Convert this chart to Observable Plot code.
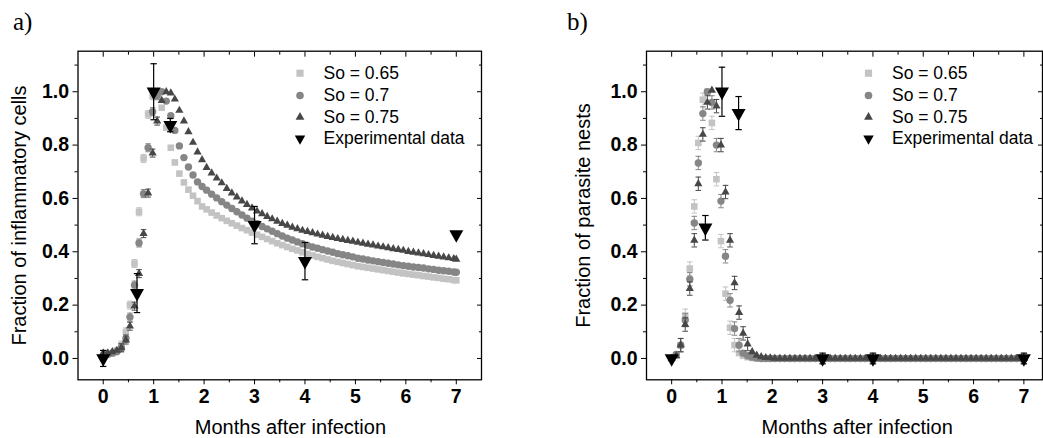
<!DOCTYPE html>
<html><head><meta charset="utf-8">
<script src="https://cdn.jsdelivr.net/npm/d3@7"></script>
<script src="https://cdn.jsdelivr.net/npm/@observablehq/plot@0.6"></script>
<style>
body{margin:0;background:#fff;}
#wrap{position:relative;width:1043px;height:438px;overflow:hidden;background:#fff;}
#wrap svg{position:absolute;top:0;}
.panel-label{position:absolute;font-family:"Liberation Serif","Times New Roman",serif;font-size:25px;line-height:25px;color:#000;}
</style></head><body>
<div id="wrap">
<div class="panel-label" style="left:13px;top:9px">a)</div>
<div class="panel-label" style="left:567px;top:9px">b)</div>
</div>
<script>
// ---- data ----
const modelMonths = [0, 0.09, 0.18, 0.27, 0.36, 0.45, 0.53, 0.62, 0.71, 0.80, 0.89, 0.98, 1.07, 1.16, 1.25, 1.34, 1.42, 1.51, 1.60, 1.69, 1.78, 1.87, 1.96,
  2.05, 2.15, 2.25, 2.35, 2.45, 2.55, 2.65, 2.75, 2.85, 2.95,
  3.05, 3.15, 3.25, 3.35, 3.45, 3.55, 3.65, 3.75, 3.85, 3.95,
  4.05, 4.15, 4.25, 4.35, 4.45, 4.55, 4.65, 4.75, 4.85, 4.95,
  5.05, 5.15, 5.25, 5.35, 5.45, 5.55, 5.65, 5.75, 5.85, 5.95,
  6.05, 6.15, 6.25, 6.35, 6.45, 6.55, 6.65, 6.75, 6.85, 6.95, 7.0];

// panel a: fraction of inflammatory cells
const inflam065 = [0.01, 0.02, 0.02, 0.03, 0.05, 0.10, 0.20, 0.356, 0.55, 0.75, 0.915, 0.985, 0.995, 0.94, 0.865, 0.79, 0.735, 0.693, 0.66, 0.633, 0.61, 0.59, 0.57,
  0.559, 0.547, 0.536, 0.526, 0.516, 0.507, 0.498, 0.489, 0.481, 0.472,
  0.464, 0.456, 0.448, 0.44, 0.432, 0.425, 0.418, 0.411, 0.405, 0.398,
  0.392, 0.386, 0.381, 0.376, 0.371, 0.366, 0.362, 0.358, 0.354, 0.35,
  0.346, 0.343, 0.34, 0.337, 0.334, 0.331, 0.328, 0.325, 0.322, 0.319,
  0.317, 0.314, 0.312, 0.309, 0.307, 0.304, 0.302, 0.299, 0.297, 0.294, 0.293];
const inflam070 = [0.01, 0.015, 0.02, 0.025, 0.04, 0.075, 0.155, 0.275, 0.433, 0.618, 0.79, 0.925, 0.985, 1.0, 0.965, 0.91, 0.855, 0.797, 0.753, 0.718, 0.688, 0.662, 0.645,
  0.631, 0.616, 0.602, 0.588, 0.575, 0.562, 0.55, 0.538, 0.526, 0.515,
  0.505, 0.495, 0.486, 0.477, 0.468, 0.459, 0.451, 0.444, 0.437, 0.43,
  0.424, 0.418, 0.413, 0.408, 0.403, 0.398, 0.393, 0.389, 0.385, 0.381,
  0.376, 0.373, 0.369, 0.366, 0.363, 0.36, 0.357, 0.354, 0.351, 0.348,
  0.346, 0.343, 0.341, 0.339, 0.336, 0.334, 0.331, 0.329, 0.327, 0.324, 0.323];
const inflam075 = [0.02, 0.02, 0.025, 0.03, 0.04, 0.069, 0.121, 0.196, 0.318, 0.468, 0.62, 0.77, 0.89, 0.967, 1.0, 0.995, 0.972, 0.93, 0.89, 0.85, 0.81, 0.774, 0.745,
  0.716, 0.695, 0.676, 0.658, 0.637, 0.62, 0.605, 0.59, 0.577, 0.564,
  0.552, 0.542, 0.532, 0.523, 0.514, 0.506, 0.499, 0.492, 0.486, 0.48,
  0.476, 0.471, 0.466, 0.462, 0.457, 0.453, 0.449, 0.446, 0.442, 0.439,
  0.435, 0.432, 0.428, 0.425, 0.421, 0.418, 0.415, 0.411, 0.408, 0.405,
  0.401, 0.398, 0.395, 0.392, 0.389, 0.386, 0.383, 0.38, 0.377, 0.374, 0.372];

// panel b: fraction of parasite nests
const nests065 = [0, 0.01, 0.05, 0.16, 0.337, 0.57, 0.808, 0.97, 1.0, 0.883, 0.672, 0.44, 0.243, 0.115, 0.05, 0.02, 0.01, 0.005, 0.002, 0, 0, 0, 0,
  0, 0, 0, 0, 0, 0, 0, 0, 0, 0,
  0, 0, 0, 0, 0, 0, 0, 0, 0, 0,
  0, 0, 0, 0, 0, 0, 0, 0, 0, 0,
  0, 0, 0, 0, 0, 0, 0, 0, 0, 0,
  0, 0, 0, 0, 0, 0, 0, 0, 0, 0, 0];
const nests070 = [0, 0.015, 0.05, 0.144, 0.297, 0.508, 0.733, 0.918, 1.0, 0.96, 0.80, 0.59, 0.383, 0.218, 0.112, 0.05, 0.02, 0.01, 0.005, 0.002, 0, 0, 0,
  0, 0, 0, 0, 0, 0, 0, 0, 0, 0,
  0, 0, 0, 0, 0, 0, 0, 0, 0, 0,
  0, 0, 0, 0, 0, 0, 0, 0, 0, 0,
  0, 0, 0, 0, 0, 0, 0, 0, 0, 0,
  0, 0, 0, 0, 0, 0, 0, 0, 0, 0, 0];
const nests075 = [0, 0.01, 0.05, 0.127, 0.262, 0.443, 0.655, 0.84, 0.96, 1.005, 0.946, 0.80, 0.624, 0.443, 0.283, 0.172, 0.094, 0.054, 0.025, 0.012, 0.006, 0.003, 0.002,
  0, 0, 0, 0, 0, 0, 0, 0, 0, 0,
  0, 0, 0, 0, 0, 0, 0, 0, 0, 0,
  0, 0, 0, 0, 0, 0, 0, 0, 0, 0,
  0, 0, 0, 0, 0, 0, 0, 0, 0, 0,
  0, 0, 0, 0, 0, 0, 0, 0, 0, 0, 0];

// experimental data
const expMonths = [0, 0.67, 1, 1.33, 3, 4, 7];
const expInflam = [0, 0.245, 1.0, 0.875, 0.5, 0.365, 0.465];
const expInflamErr = [0.03, 0.073, 0.105, 0.025, 0.07, 0.07, 0];
const expNests = [0, 0.49, 1.0, 0.92, 0, 0, 0];
const expNestsErr = [0, 0.046, 0.092, 0.062, 0.02, 0.02, 0.02];

const seriesNames = ["So = 0.65", "So = 0.7", "So = 0.75", "Experimental data"];
const xMajorTicks = [0, 1, 2, 3, 4, 5, 6, 7];
const xMinorTicks = [0.5, 1.5, 2.5, 3.5, 4.5, 5.5, 6.5];
const yMajorTicks = [0, 0.2, 0.4, 0.6, 0.8, 1.0];
const yMinorTicks = [0.1, 0.3, 0.5, 0.7, 0.9, 1.1];
const xTitle = "Months after infection";
const yTitleA = "Fraction of inflammatory cells";
const yTitleB = "Fraction of parasite nests";

// ---- symbols ----
const symSquare = {draw(c, s) { const r = Math.sqrt(s / Math.PI); c.rect(-r, -r, 2 * r, 2 * r); }};
const symTriUp = {draw(c, s) { const r = Math.sqrt(s / Math.PI), h = r * 1.75;
  c.moveTo(0, -2 * h / 3); c.lineTo(r, h / 3); c.lineTo(-r, h / 3); c.closePath(); }};
const symTriDown = {draw(c, s) { const r = Math.sqrt(s / Math.PI), h = r * 1.8;
  c.moveTo(-r, -h / 3); c.lineTo(r, -h / 3); c.lineTo(0, 2 * h / 3); c.closePath(); }};
const symCap = {draw(c, s) { const r = Math.sqrt(s / Math.PI); c.moveTo(-r, 0); c.lineTo(r, 0); }};

const colors = ["#c3c3c3", "#868686", "#474747", "#000000"];
const modelSymbols = ["square", "circle", "triangle"];
const symOf = {square: symSquare, circle: "circle", triangle: symTriUp};
const sizeOf = {square: 3.3, circle: 3.7, triangle: 4.1};
const legendSize = {square: 3.6, circle: 3.8, triangle: 4.4};

const FONT = "'Liberation Sans', Arial, Helvetica, sans-serif";

function makePanel({series, expY, expErr, modelErr, errMaxX, yTitle, width, marginLeft, marginRight, xDomain, titleDx, yTitleDx}) {
  const marks = [];
  // model series
  series.forEach((vals, k) => {
    const rows = modelMonths.map((m, i) => ({m, v: vals[i]}));
    const errRows = rows.filter(d => d.m <= errMaxX && d.v >= 0.04 && d.v < 0.995);
    const col = colors[k];
    if (modelErr > 0) {
      marks.push(Plot.ruleX(errRows, {x: "m", y1: d => d.v - modelErr, y2: d => d.v + modelErr, stroke: col, strokeWidth: 1}));
      marks.push(Plot.dot(errRows, {x: "m", y: d => d.v + modelErr, symbol: symCap, r: 2.8, fill: "none", stroke: col, strokeWidth: 1}));
      marks.push(Plot.dot(errRows, {x: "m", y: d => d.v - modelErr, symbol: symCap, r: 2.8, fill: "none", stroke: col, strokeWidth: 1}));
    }
    const s = modelSymbols[k];
    marks.push(Plot.dot(rows, {x: "m", y: "v", symbol: symOf[s], r: sizeOf[s], fill: col, stroke: "none"}));
  });
  // experimental
  const exp = expMonths.map((m, i) => ({m, v: expY[i], e: expErr[i]}));
  const expE = exp.filter(d => d.e > 0);
  marks.push(Plot.ruleX(expE, {x: "m", y1: d => d.v - d.e, y2: d => d.v + d.e, stroke: "#000", strokeWidth: 1.2}));
  marks.push(Plot.dot(expE, {x: "m", y: d => d.v + d.e, symbol: symCap, r: 3.2, fill: "none", stroke: "#000", strokeWidth: 1.2}));
  marks.push(Plot.dot(expE, {x: "m", y: d => d.v - d.e, symbol: symCap, r: 3.2, fill: "none", stroke: "#000", strokeWidth: 1.2}));
  marks.push(Plot.dot(exp, {x: "m", y: "v", symbol: symTriDown, r: 7.0, fill: "#000", stroke: "none"}));

  // legend
  const legendDy = [22, 44.3, 66, 87.3];
  seriesNames.forEach((name, k) => {
    if (k < 3) {
      const s = modelSymbols[k];
      marks.push(Plot.dot([name], {frameAnchor: "top-left", dx: 222, dy: legendDy[k], symbol: symOf[s], r: legendSize[s], fill: colors[k]}));
    } else {
      marks.push(Plot.dot([name], {frameAnchor: "top-left", dx: 222, dy: legendDy[k], symbol: symTriDown, r: 5.2, fill: "#000"}));
    }
    marks.push(Plot.text([name], {frameAnchor: "top-left", dx: 245.5, dy: legendDy[k], text: d => d, textAnchor: "start", lineAnchor: "middle", fontSize: 17.5, fill: "#000"}));
  });

  // axis titles
  marks.push(Plot.text([xTitle], {frameAnchor: "bottom", dx: titleDx, dy: 54, text: d => d, lineAnchor: "bottom", textAnchor: "middle", fontSize: 20, fill: "#000"}));
  marks.push(Plot.text([yTitle], {frameAnchor: "left", dx: yTitleDx, text: d => d, rotate: -90, lineAnchor: "middle", textAnchor: "middle", fontSize: 20, fill: "#000"}));

  const blank = () => "";
  marks.push(
    Plot.axisY({ticks: yMajorTicks, anchor: "left", tickSize: 5, tickPadding: 4, tickFormat: d3.format(".1f"), fontWeight: "bold", fontSize: 19.5, label: null}),
    Plot.axisY({ticks: yMinorTicks, anchor: "left", tickSize: 3, tickFormat: blank, label: null}),
    Plot.axisY({ticks: yMajorTicks, anchor: "right", tickSize: 5, dx: -5, tickFormat: blank, label: null}),
    Plot.axisY({ticks: yMinorTicks, anchor: "right", tickSize: 3, dx: -3, tickFormat: blank, label: null}),
    Plot.axisX({ticks: xMajorTicks, anchor: "bottom", tickSize: 5, tickPadding: 4, tickFormat: d => String(d), fontWeight: "bold", fontSize: 19.5, label: null}),
    Plot.axisX({ticks: xMinorTicks, anchor: "bottom", tickSize: 3, tickFormat: blank, label: null}),
    Plot.axisX({ticks: xMajorTicks, anchor: "top", tickSize: 5, dy: 5, tickFormat: blank, label: null}),
    Plot.axisX({ticks: xMinorTicks, anchor: "top", tickSize: 3, dy: 3, tickFormat: blank, label: null}),
    Plot.frame({stroke: "#000", strokeWidth: 1.3})
  );

  return Plot.plot({
    width, height: 438,
    marginLeft, marginRight, marginTop: 50.7, marginBottom: 58.7,
    style: {fontFamily: FONT, fontSize: "19px", background: "transparent", color: "#000", overflow: "visible"},
    x: {domain: xDomain},
    y: {domain: [-0.08, 1.152]},
    marks
  });
}

const wrap = document.getElementById("wrap");
const svgA = makePanel({
  series: [inflam065, inflam070, inflam075], expY: expInflam, expErr: expInflamErr,
  modelErr: 0.015, errMaxX: 1.1, yTitle: yTitleA,
  width: 520, marginLeft: 77.5, marginRight: 39, xDomain: [-0.5, 7.5], titleDx: 10.7, yTitleDx: -58
});
svgA.style.left = "0px";
const svgB = makePanel({
  series: [nests065, nests070, nests075], expY: expNests, expErr: expNestsErr,
  modelErr: 0.025, errMaxX: 1.6, yTitle: yTitleB,
  width: 523, marginLeft: 126, marginRight: 1, xDomain: [-0.5, 7.37], titleDx: 12.7, yTitleDx: -62.7
});
svgB.style.left = "520px";
wrap.appendChild(svgA);
wrap.appendChild(svgB);
</script>
</body></html>
